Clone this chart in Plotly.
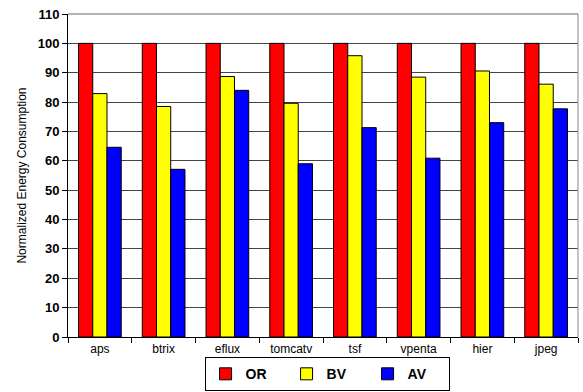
import plotly.graph_objects as go

# Benchmarks and normalized energy consumption per scheme
benchmarks = ["aps", "btrix", "eflux", "tomcatv", "tsf", "vpenta", "hier", "jpeg"]
or_values = [100, 100, 100, 100, 100, 100, 100, 100]
bv_values = [82.9, 78.5, 88.7, 79.6, 95.8, 88.5, 90.6, 86.1]
av_values = [64.6, 57.1, 84.0, 59.0, 71.3, 60.9, 73.0, 77.7]

series = [
    ("OR", or_values, "#ff0000"),
    ("BV", bv_values, "#ffff00"),
    ("AV", av_values, "#0000ff"),
]

fig = go.Figure()
for name, vals, color in series:
    fig.add_trace(go.Bar(
        x=benchmarks, y=vals, name=name,
        marker=dict(color=color, line=dict(color="black", width=1)),
    ))

fig.update_layout(
    width=583, height=392,
    margin=dict(l=68, r=5, t=14, b=55, autoexpand=False),
    paper_bgcolor="white", plot_bgcolor="white",
    barmode="group", bargap=0.33, bargroupgap=0,
    font=dict(family="Liberation Sans, Arial, sans-serif", color="black", size=12),
    showlegend=True,
    legend=dict(
        orientation="h", xref="container", x=0.561, xanchor="center",
        yref="container", y=0.002, yanchor="bottom",
        bordercolor="black", borderwidth=1,
        font=dict(size=14, family="Liberation Sans, Arial, sans-serif", weight="bold"),
        entrywidth=36, itemwidth=30, traceorder="normal",
        tracegroupgap=0, valign="middle",
    ),
)

fig.update_xaxes(
    showline=True, linecolor="black", linewidth=1, mirror=False,
    ticks="outside", ticklen=5, tickcolor="black",
    tickson="boundaries", showgrid=False,
    tickfont=dict(size=12), ticklabelstandoff=1,
)
fig.update_yaxes(
    range=[0, 110], dtick=10, tick0=0,
    showline=True, linecolor="black", linewidth=1,
    ticks="outside", ticklen=5, tickcolor="black",
    showgrid=True, gridcolor="#444444", gridwidth=1,
    zeroline=False,
    tickfont=dict(size=13, weight="bold"),
    title=dict(text="Normalized Energy Consumption", font=dict(size=12), standoff=8),
)

# Frame on the top and right sides of the plot area
fig.add_shape(type="line", xref="paper", yref="paper", x0=1, x1=1, y0=0, y1=1,
              line=dict(color="#888888", width=1))
fig.add_shape(type="line", xref="paper", yref="paper", x0=0, x1=1, y0=1, y1=1,
              line=dict(color="#666666", width=1))

fig.write_html("out.html")
